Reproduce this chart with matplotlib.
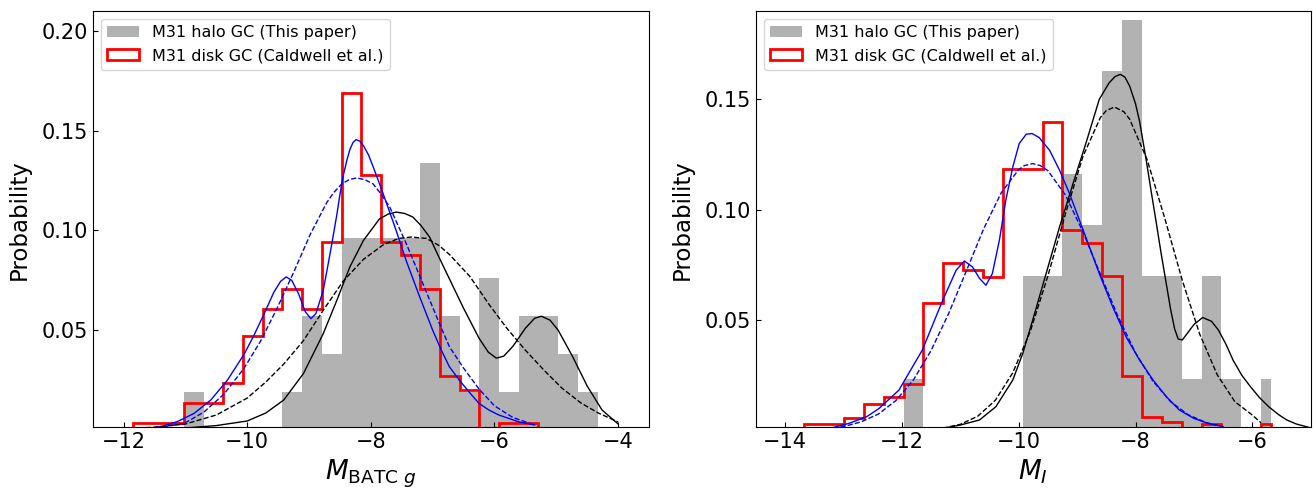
import matplotlib
matplotlib.use('Agg')
import matplotlib.pyplot as plt
from matplotlib.ticker import MultipleLocator

# ---- left panel: M_BATC g ----
# bin edges and probabilities
g_halo_edges = [-11.02, -10.70, -10.39, -10.07, -9.75, -9.43, -9.11, -8.79, -8.47, -8.16,
                -7.84, -7.52, -7.20, -6.88, -6.56, -6.25, -5.93, -5.61, -5.29, -4.97,
                -4.65, -4.33]
g_halo_prob = [0.019, 0, 0, 0, 0, 0.019, 0.057, 0.038, 0.096, 0.096,
               0.096, 0.096, 0.134, 0.057, 0.019, 0.076, 0.019, 0.057, 0.057, 0.038,
               0.019]

g_disk_edges = [-11.84, -11.02, -10.70, -10.39, -10.07, -9.75, -9.43, -9.11, -8.79, -8.47,
                -8.16, -7.84, -7.52, -7.20, -6.88, -6.56, -6.25, -5.93, -5.61, -5.29]
g_disk_prob = [0.0033, 0.0133, 0.0133, 0.0233, 0.047, 0.0605, 0.0705, 0.0605, 0.094,
               0.1687, 0.128, 0.094, 0.0875, 0.0705, 0.027, 0.020, 0, 0.0033, 0.0033]

# fitted curves
g_disk_fit2_x = [-11.60, -11.39, -11.13, -10.86, -10.59, -10.32, -10.05, -9.89, -9.73, -9.57,
                 -9.46, -9.37, -9.28, -9.17, -9.06, -8.97, -8.89, -8.77, -8.66, -8.60,
                 -8.55, -8.50, -8.45, -8.39, -8.34, -8.29, -8.24, -8.18, -8.12, -8.04,
                 -7.96, -7.80, -7.61, -7.43, -7.21, -7.00, -6.86, -6.73, -6.57, -6.41,
                 -6.25, -6.09, -5.93, -5.62, -5.35]
g_disk_fit2_y = [0.0008, 0.0017, 0.0042, 0.0083, 0.015, 0.025, 0.038, 0.0475, 0.058, 0.069,
                 0.0745, 0.0767, 0.0750, 0.0683, 0.0592, 0.0558, 0.0583, 0.070, 0.0883, 0.099,
                 0.108, 0.118, 0.127, 0.135, 0.1405, 0.1440, 0.1455, 0.1448, 0.1425, 0.138,
                 0.1317, 0.1183, 0.1017, 0.085, 0.0667, 0.050, 0.040, 0.0317, 0.025, 0.019,
                 0.0133, 0.010, 0.0075, 0.0042, 0.0025]
g_disk_fit1_x = [-11.60, -11.30, -11.02, -10.70, -10.375, -10.05, -9.785, -9.517, -9.249, -8.981,
                 -8.713, -8.60, -8.472, -8.35, -8.231, -8.10, -7.962, -7.83, -7.694, -7.426,
                 -7.158, -6.890, -6.729, -6.50, -6.25, -6.00, -5.70, -5.35]
g_disk_fit1_y = [0.0008, 0.0018, 0.0033, 0.0090, 0.0180, 0.031, 0.0445, 0.061, 0.079, 0.098,
                 0.114, 0.119, 0.1233, 0.1255, 0.1263, 0.1255, 0.1233, 0.118, 0.1117, 0.0933,
                 0.0733, 0.0533, 0.0417, 0.031, 0.0205, 0.0121, 0.0062, 0.0025]
g_halo_fit2_x = [-12.0, -11.5, -11.0, -10.5, -10.0, -9.7, -9.41, -9.09, -8.77, -8.55,
                 -8.34, -8.12, -7.86, -7.72, -7.59, -7.45, -7.32, -7.19, -7.05, -6.92,
                 -6.78, -6.50, -6.25, -6.10, -5.97, -5.85, -5.70, -5.50, -5.35, -5.24,
                 -5.10, -4.97, -4.74, -4.50, -4.26, -4.0]
g_halo_fit2_y = [0.0001, 0.0003, 0.0010, 0.0022, 0.0045, 0.0085, 0.015, 0.0283, 0.0483, 0.065,
                 0.0817, 0.095, 0.1058, 0.1082, 0.1092, 0.1085, 0.1067, 0.1025, 0.0967, 0.088,
                 0.079, 0.061, 0.046, 0.039, 0.036, 0.037, 0.042, 0.051, 0.056, 0.057,
                 0.055, 0.050, 0.037, 0.022, 0.010, 0.003]
g_halo_fit1_x = [-12.0, -11.5, -11.0, -10.5, -10.0, -9.7, -9.41, -9.09, -8.77, -8.45,
                 -8.12, -7.80, -7.55, -7.35, -7.10, -6.90, -6.73, -6.40, -6.09, -5.80,
                 -5.50, -5.20, -4.91, -4.60, -4.32, -4.0]
g_halo_fit1_y = [0.0006, 0.0014, 0.0030, 0.0075, 0.016, 0.024, 0.0330, 0.0448, 0.060, 0.0745,
                 0.0855, 0.0928, 0.0960, 0.0967, 0.0960, 0.0925, 0.088, 0.077, 0.063, 0.051,
                 0.040, 0.030, 0.021, 0.0135, 0.0085, 0.004]

# ---- right panel: M_I ----
i_edges = [-13.67, -13.33, -12.99, -12.65, -12.31, -11.97, -11.63, -11.29, -10.95, -10.61,
           -10.27, -9.93, -9.59, -9.25, -8.91, -8.57, -8.23, -7.89, -7.55, -7.21,
           -6.87, -6.53, -6.19, -5.85, -5.68]
i_halo_prob = [0, 0, 0, 0, 0, 0.0233, 0, 0, 0, 0,
               0, 0.0698, 0.0698, 0.1163, 0.093, 0.1628, 0.186, 0.0698, 0.0698, 0.0233,
               0.0698, 0.0233, 0, 0.0233]
i_disk_prob = [0.0028, 0.0028, 0.0058, 0.012, 0.0153, 0.0213, 0.0576, 0.076, 0.0729, 0.0697,
               0.1186, 0.1186, 0.1398, 0.091, 0.085, 0.0699, 0.0247, 0.006, 0.0037, 0,
               0.0028, 0, 0, 0.0028]

i_disk_fit2_x = [-13.2, -12.9, -12.6, -12.39, -12.05, -11.65, -11.30, -11.07, -10.93, -10.79,
                 -10.67, -10.56, -10.45, -10.33, -10.22, -10.10, -9.99, -9.87, -9.77, -9.65,
                 -9.47, -9.30, -9.13, -8.96, -8.79, -8.62, -8.39, -8.16, -7.93, -7.70,
                 -7.47, -7.25, -7.0, -6.75, -6.5]
i_disk_fit2_y = [0.0012, 0.0033, 0.0063, 0.0100, 0.0183, 0.0364, 0.059, 0.0726, 0.0768, 0.0741,
                 0.0689, 0.0658, 0.0711, 0.0862, 0.1043, 0.1194, 0.130, 0.1342, 0.1345, 0.1327,
                 0.1269, 0.1179, 0.1073, 0.0953, 0.0832, 0.0711, 0.056, 0.0424, 0.0319, 0.0229,
                 0.0153, 0.0093, 0.0055, 0.0032, 0.0018]
i_disk_fit1_x = [-13.3, -13.0, -12.7, -12.4, -12.1, -11.8, -11.5, -11.2, -10.9, -10.6,
                 -10.3, -10.0, -9.9, -9.76, -9.63, -9.5, -9.2, -8.9, -8.6, -8.3,
                 -8.0, -7.7, -7.4, -7.1, -6.8, -6.5]
i_disk_fit1_y = [0.0008, 0.0018, 0.0039, 0.0075, 0.0136, 0.0230, 0.0362, 0.0529, 0.0720, 0.0913,
                 0.1076, 0.1182, 0.1200, 0.1209, 0.1200, 0.1177, 0.1067, 0.0900, 0.0707, 0.0517,
                 0.0352, 0.0223, 0.0131, 0.0072, 0.0037, 0.0017]
i_halo_fit2_x = [-11.3, -11.0, -10.67, -10.39, -10.10, -9.93, -9.76, -9.53, -9.30, -9.07,
                 -8.85, -8.62, -8.45, -8.35, -8.26, -8.18, -8.10, -8.00, -7.93, -7.82,
                 -7.73, -7.65, -7.56, -7.47, -7.40, -7.33, -7.27, -7.20, -7.10, -7.0,
                 -6.85, -6.7, -6.58, -6.45, -6.33, -6.18, -6.03, -5.88, -5.72, -5.55,
                 -5.41, -5.25, -5.0]
i_halo_fit2_y = [0.0010, 0.0025, 0.0048, 0.0108, 0.0229, 0.0349, 0.050, 0.0711, 0.0922, 0.1118,
                 0.130, 0.150, 0.1575, 0.1603, 0.1613, 0.1600, 0.156, 0.148, 0.140, 0.123,
                 0.108, 0.095, 0.080, 0.066, 0.055, 0.046, 0.0415, 0.041, 0.0445, 0.048,
                 0.0512, 0.0495, 0.0455, 0.039, 0.0319, 0.025, 0.0198, 0.015, 0.0108, 0.0072,
                 0.0048, 0.003, 0.0012]
i_halo_fit1_x = [-11.3, -11.0, -10.7, -10.4, -10.1, -9.8, -9.5, -9.2, -8.9, -8.6,
                 -8.5, -8.36, -8.2, -8.1, -7.8, -7.5, -7.2, -6.9, -6.6, -6.3,
                 -6.0, -5.85]
i_halo_fit1_y = [0.0011, 0.0028, 0.0065, 0.0137, 0.0262, 0.045, 0.070, 0.0981, 0.1241, 0.1418,
                 0.1449, 0.1465, 0.1444, 0.141, 0.1226, 0.0962, 0.0681, 0.0436, 0.0252, 0.0131,
                 0.0070, 0.0035]

halo_label = 'M31 halo GC (This paper)'
disk_label = 'M31 disk GC (Caldwell et al.)'
gray = '#b2b2b2'

fig = plt.figure(figsize=(13.13, 4.9), dpi=100)
ax1 = fig.add_axes([0.0706, 0.1276, 0.4237, 0.85])
ax2 = fig.add_axes([0.5756, 0.1276, 0.4227, 0.85])

panels = [
    (ax1, g_halo_edges, g_halo_prob, g_disk_edges, g_disk_prob,
     (g_disk_fit2_x, g_disk_fit2_y), (g_disk_fit1_x, g_disk_fit1_y),
     (g_halo_fit2_x, g_halo_fit2_y), (g_halo_fit1_x, g_halo_fit1_y),
     r'$M_{\mathrm{BATC}\ g}$', (-12.5, -3.5), (0.00125, 0.21)),
    (ax2, i_edges, i_halo_prob, i_edges, i_disk_prob,
     (i_disk_fit2_x, i_disk_fit2_y), (i_disk_fit1_x, i_disk_fit1_y),
     (i_halo_fit2_x, i_halo_fit2_y), (i_halo_fit1_x, i_halo_fit1_y),
     r'$M_I$', (-14.5, -5.0), (0.0014, 0.19)),
]

for (ax, he, hp, de, dp, db2, db1, hb2, hb1, xlab, xlim, ylim) in panels:
    ax.hist(he[:-1], bins=he, weights=hp, histtype='bar', color=gray,
            label=halo_label)
    ax.hist(de[:-1], bins=de, weights=dp, histtype='step', color='red', lw=2,
            label=disk_label)
    ax.plot(db2[0], db2[1], color='blue', lw=1)
    ax.plot(db1[0], db1[1], color='blue', lw=1, ls='--')
    ax.plot(hb2[0], hb2[1], color='black', lw=1)
    ax.plot(hb1[0], hb1[1], color='black', lw=1, ls='--')
    ax.set_xlim(*xlim)
    ax.set_ylim(*ylim)
    ax.yaxis.set_major_locator(MultipleLocator(0.05))
    ax.set_xlabel(xlab, fontsize=19)
    ax.set_ylabel('Probability', fontsize=16.5, labelpad=8)
    ax.tick_params(direction='in', labelsize=15)
    ax.legend(loc='upper left', fontsize=11.5)

fig.savefig('out.png', dpi=100)
